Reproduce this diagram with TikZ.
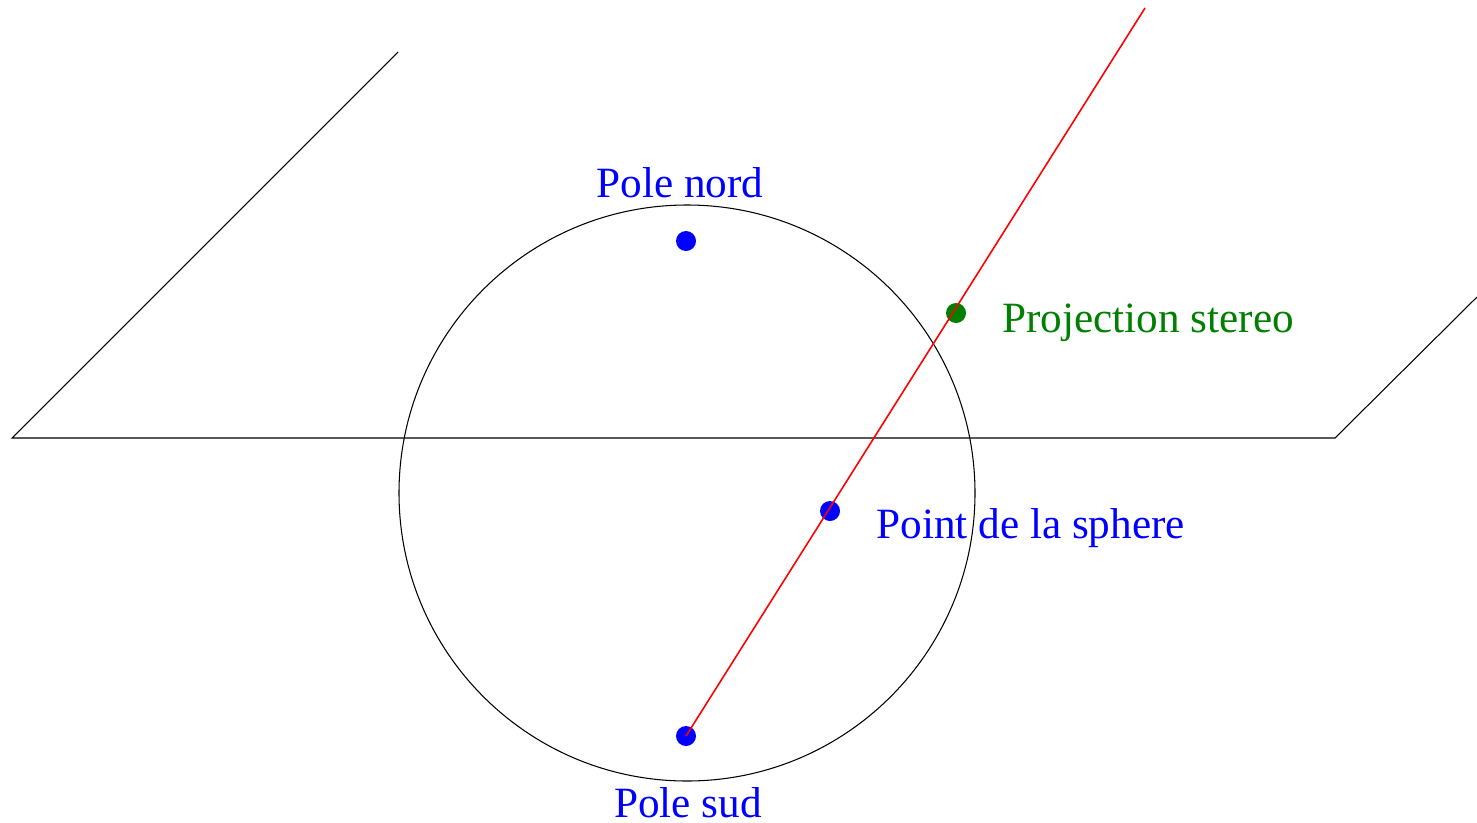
\documentclass[tikz,border=0pt]{standalone}
\usepackage{fontspec}
\setmainfont{Liberation Serif}
\begin{document}
\begin{tikzpicture}[x=0.02cm,y=-0.02cm,
  lbl/.style={inner sep=0pt,anchor=base,font=\fontsize{24.6}{30}\selectfont},
  dot/.style={circle,inner sep=0pt,minimum size=0.4cm},
  edge/.style={black,line width=0.6pt},
  ray/.style={red,line width=0.9pt}]
\useasboundingbox (0,0) rectangle (1477,822);
% plane
\coordinate (p1) at (398,52);
\coordinate (p2) at (12,438);
\coordinate (p3) at (1335,438);
\coordinate (p4) at (1477,297);
\draw[edge] (p1) -- (p2) -- (p3) -- (p4);
% sphere
\coordinate (c) at (687,493);
\draw[edge] (c) circle[radius=0.02cm*288];
% points
\node[dot,fill=blue] (N) at (686,241) {};
\node[dot,fill=blue] (S) at (686,736) {};
\node[dot,fill=blue] (P) at (830,511) {};
\node[dot,fill={rgb,255:red,0;green,128;blue,0}] (Q) at (956,313) {};
\coordinate (far) at (1145,8);
\draw[ray] (S.center) -- (far);
% labels
\node[lbl,text=blue] (tN) at (680,197) {Pole nord};
\node[lbl,text=blue] (tS) at (688,817) {Pole sud};
\node[lbl,text=blue,anchor=base west] (tP) at (876,538) {Point de la sphere};
\node[lbl,text={rgb,255:red,0;green,128;blue,0},anchor=base west] (tQ) at (1002,332) {Projection stereo};
\end{tikzpicture}
\end{document}
